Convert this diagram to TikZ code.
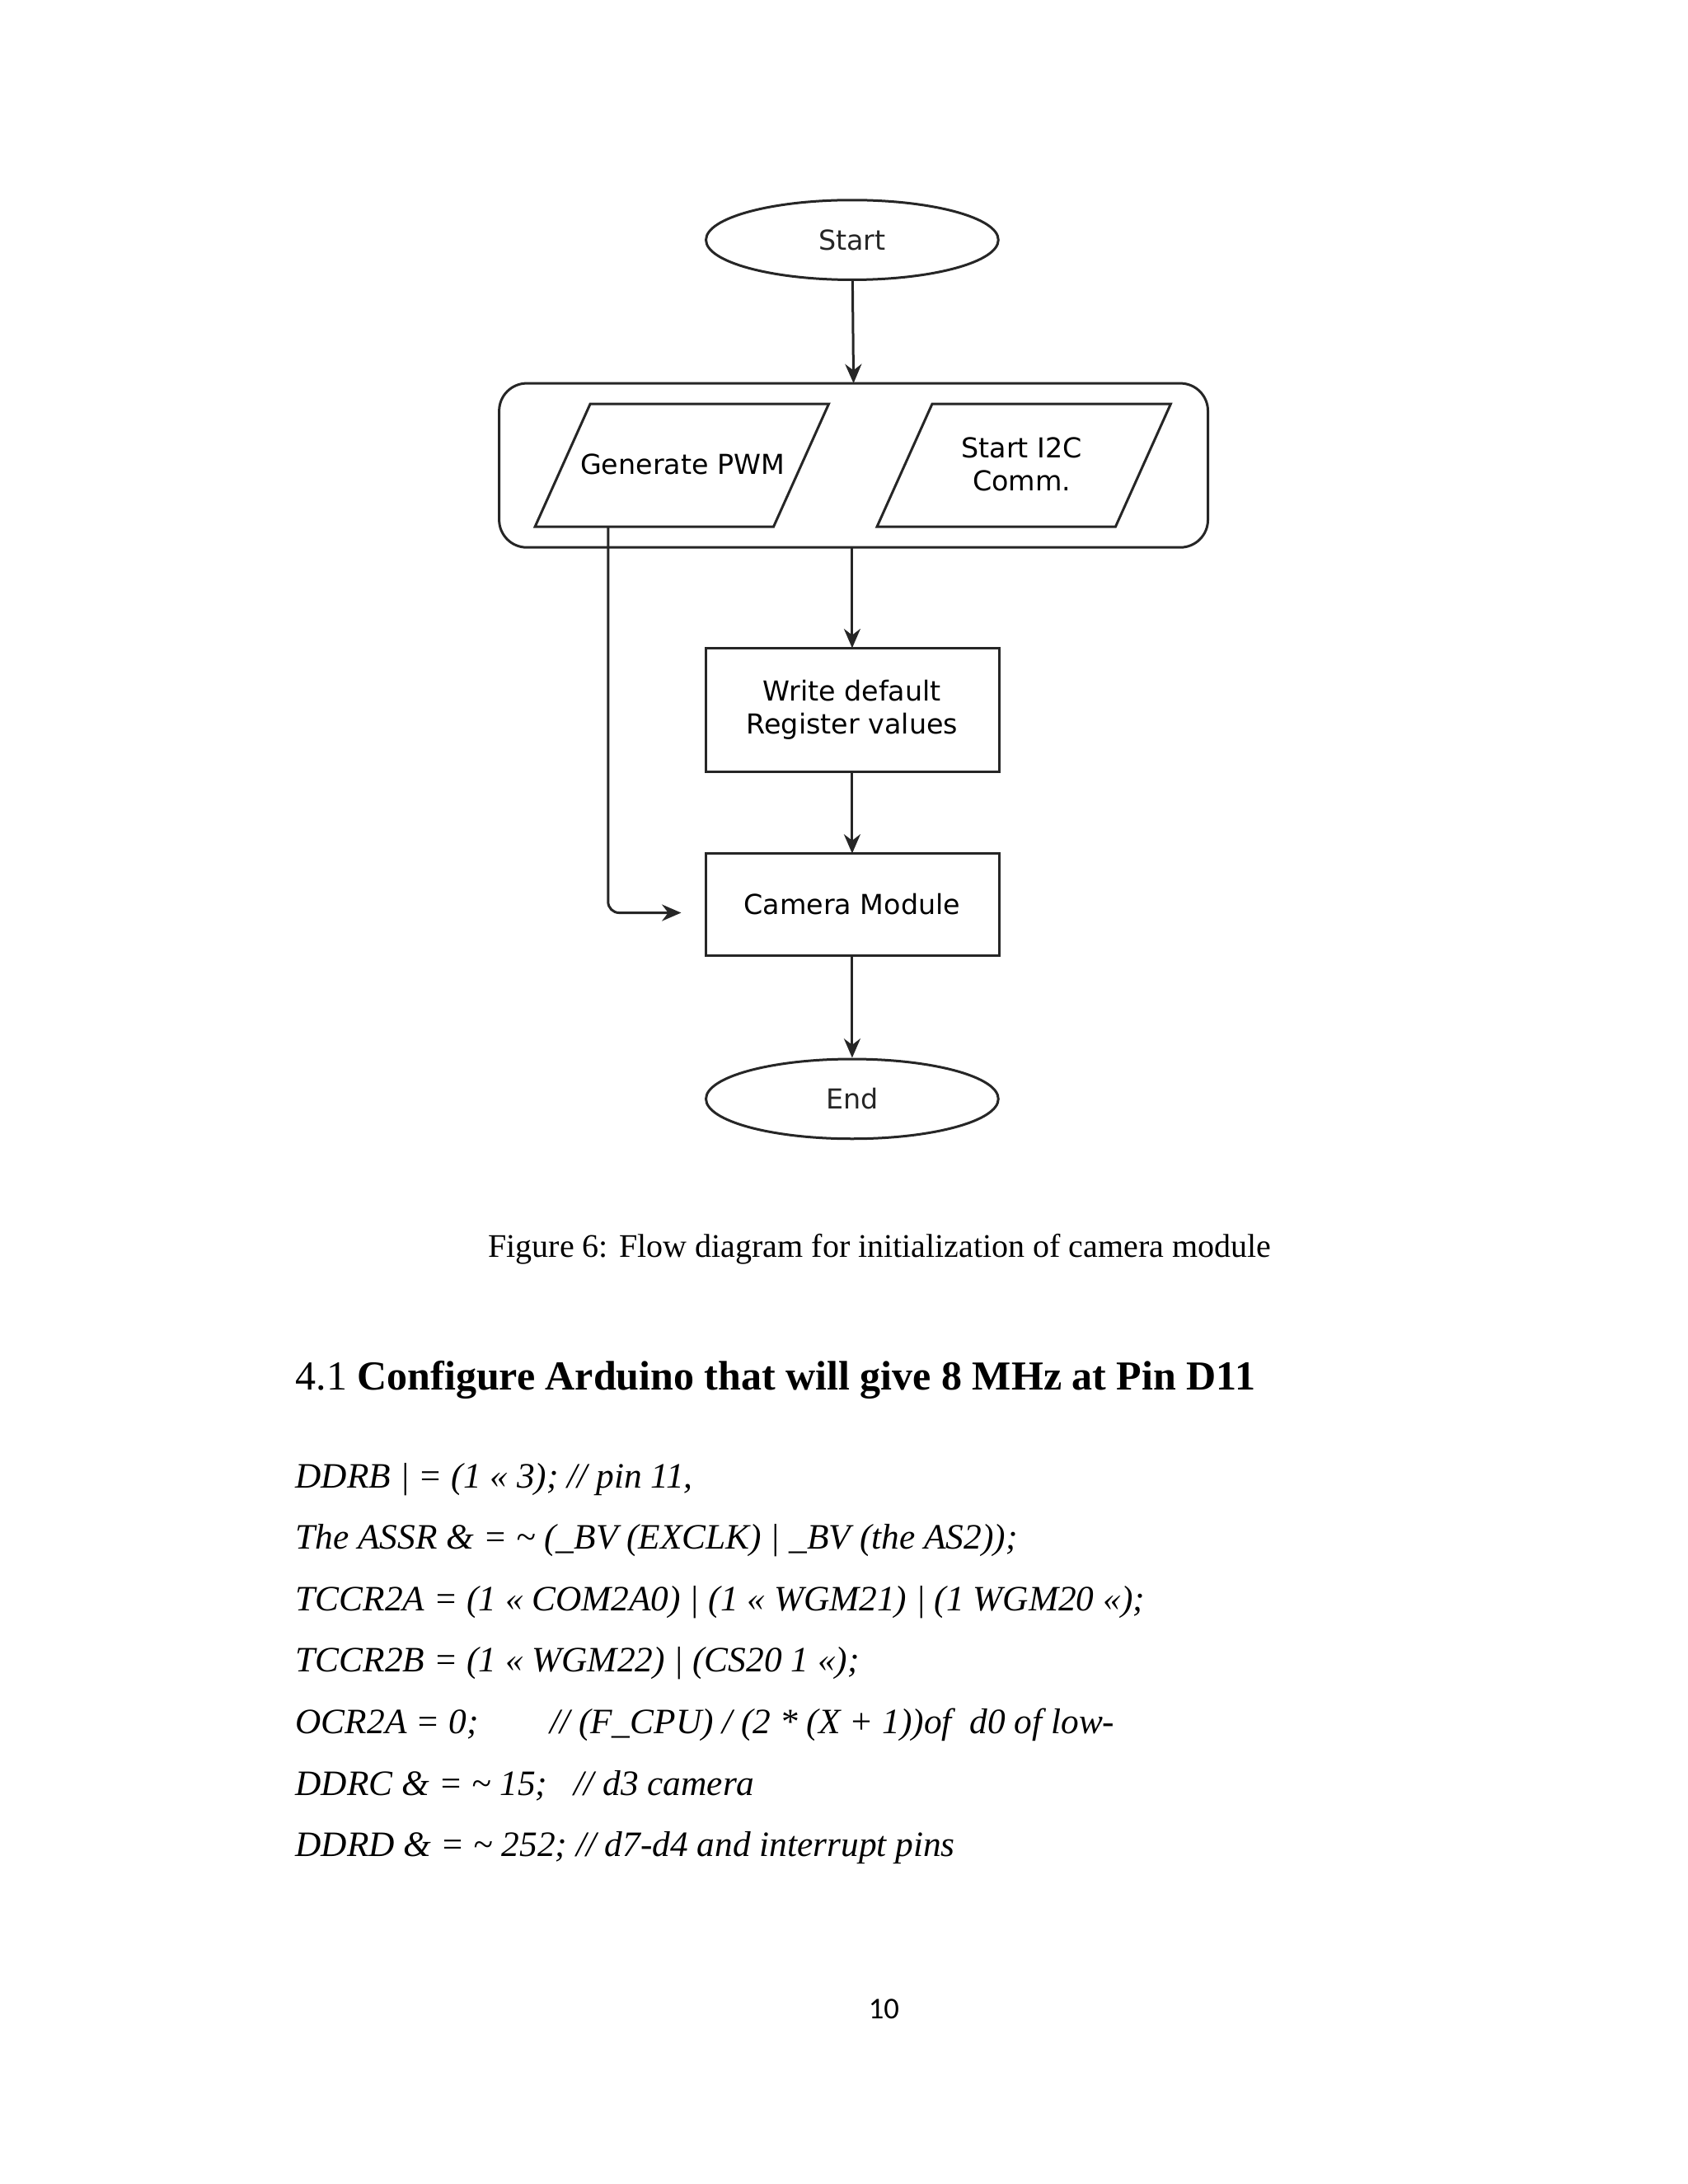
\documentclass[tikz,border=0pt]{standalone}
\usepackage{fontspec}
\setmainfont{Liberation Serif}
\newfontfamily\flow{DejaVu Sans}
\newfontfamily\pnum{Carlito}
\usetikzlibrary{shapes.geometric,arrows.meta}
\begin{document}
\begin{tikzpicture}[x=0.17640mm,y=-0.17640mm,
  every node/.style={inner sep=0pt},
  ln/.style={line width=0.9pt,black!85},
  arr/.style={ln,-{Stealth[length=7pt,width=6pt]}},
  ft/.style={font=\flow\fontsize{10}{12}\selectfont,align=center},
  oval/.style={ellipse,draw,ln,minimum width=212\pgflinewidth*0+37.4mm,minimum height=10.2mm,ft},
  code/.style={anchor=west,font=\fontsize{13}{15}\selectfont\itshape}]
\useasboundingbox (0,0) rectangle (1224,1584);
\node[oval] (start) at (618,174) {Start};
\draw[ln,rounded corners=20*0.1764mm] (362,278) rectangle (876,397);
\coordinate (ctop) at (619,278);
\coordinate (cbot) at (618,397);
\draw[ln] (428,293) -- (601,293) -- (561,382) -- (388,382) -- cycle;
\node[ft] (pwm) at (495,337) {Generate PWM};
\draw[ln] (676,293) -- (849,293) -- (809,382) -- (636,382) -- cycle;
\node[ft] (i2c) at (741,337) {Start I2C\\Comm.};
\coordinate (pwmb) at (441,382);
\draw[ln] (512,470) rectangle (725,560);
\node[ft] (write) at (618,515) {Write default\\Register values};
\coordinate (wt) at (618,470); \coordinate (wb) at (618,560);
\draw[ln] (512,619) rectangle (725,693);
\node[ft] (cam) at (618,656) {Camera Module};
\coordinate (ct) at (618,619); \coordinate (cb) at (618,693);
\node[oval] (end) at (618,797) {End};
\coordinate (tip) at (494,662);
\draw[arr] (start) -- (ctop);
\draw[arr] (cbot) -- (wt);
\draw[arr] (wb) -- (ct);
\draw[arr] (cb) -- (end);
\draw[arr,rounded corners=8*0.1764mm] (pwmb) |- (tip);
\node[font=\fontsize{12}{14}\selectfont] (cap) at (638,906) {Figure 6: Flow diagram for initialization of camera module};
\node[anchor=west,font=\fontsize{15}{18}\selectfont] (head) at (214,1001) {4.1 \textbf{Configure Arduino that will give 8 MHz at Pin D11}};
\node[code] (l1) at (214,1073) {DDRB | = (1 << 3); // pin 11,};
\node[code] (l2) at (214,1117) {The ASSR \& = \textasciitilde\ (\_BV (EXCLK) | \_BV (the AS2));};
\node[code] (l3) at (214,1162) {TCCR2A = (1 << COM2A0) | (1 << WGM21) | (1 WGM20 <<);};
\node[code] (l4) at (214,1206) {TCCR2B = (1 << WGM22) | (CS20 1 <<);};
\node[code] (l5) at (214,1251) {OCR2A = 0;\hspace{2em}// (F\_CPU) / (2 * (X + 1))of\ \ d0 of low-};
\node[code] (l6) at (214,1295) {DDRC \& = \textasciitilde\ 15;\ \ \ // d3 camera};
\node[code] (l7) at (214,1340) {DDRD \& = \textasciitilde\ 252; // d7-d4 and interrupt pins};
\node[font=\pnum\fontsize{11}{13}\selectfont] (pg) at (641,1457) {10};
\end{tikzpicture}
\end{document}
